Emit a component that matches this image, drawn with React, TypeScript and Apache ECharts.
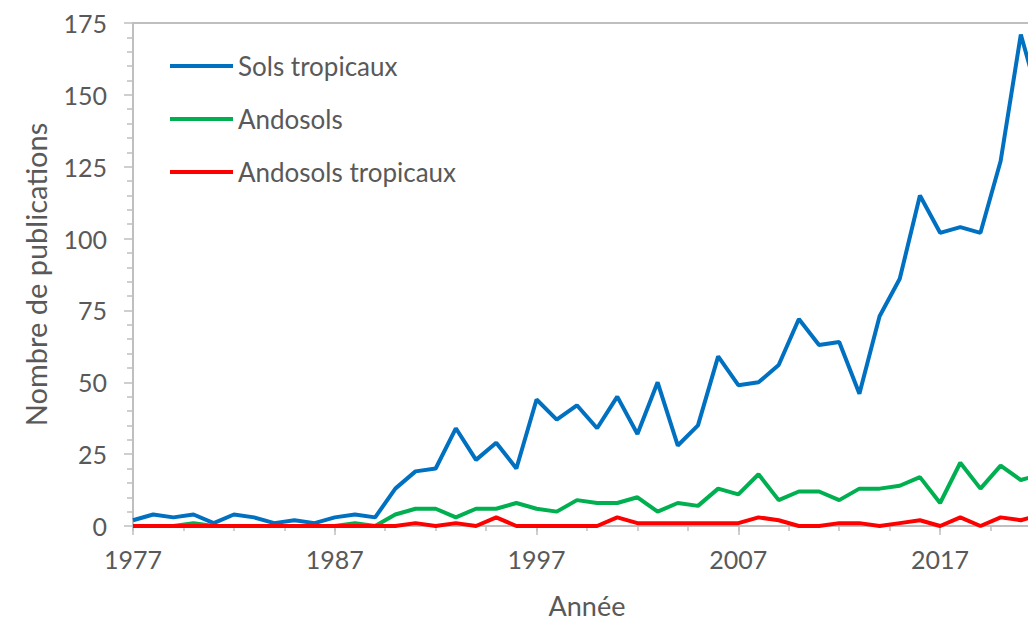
import React, { useEffect, useRef } from "react";
import * as echarts from "echarts";

const years: number[] = [
  1977, 1978, 1979, 1980, 1981, 1982, 1983, 1984, 1985, 1986,
  1987, 1988, 1989, 1990, 1991, 1992, 1993, 1994, 1995, 1996,
  1997, 1998, 1999, 2000, 2001, 2002, 2003, 2004, 2005, 2006,
  2007, 2008, 2009, 2010, 2011, 2012, 2013, 2014, 2015, 2016,
  2017, 2018, 2019, 2020, 2021, 2022,
];

const solsTropicaux: number[] = [
  2, 4, 3, 4, 1, 4, 3, 1, 2, 1,
  3, 4, 3, 13, 19, 20, 34, 23, 29, 20,
  44, 37, 42, 34, 45, 32, 50, 28, 35, 59,
  49, 50, 56, 72, 63, 64, 46, 73, 86, 115,
  102, 104, 102, 127, 171, 146,
];

const andosols: number[] = [
  0, 0, 0, 1, 0, 0, 0, 0, 0, 0,
  0, 1, 0, 4, 6, 6, 3, 6, 6, 8,
  6, 5, 9, 8, 8, 10, 5, 8, 7, 13,
  11, 18, 9, 12, 12, 9, 13, 13, 14, 17,
  8, 22, 13, 21, 16, 18,
];

const andosolsTropicaux: number[] = [
  0, 0, 0, 0, 0, 0, 0, 0, 0, 0,
  0, 0, 0, 0, 1, 0, 1, 0, 3, 0,
  0, 0, 0, 0, 3, 1, 1, 1, 1, 1,
  1, 3, 2, 0, 0, 1, 1, 0, 1, 2,
  0, 3, 0, 3, 2, 4,
];

const seriesNames: string[] = ["Sols tropicaux", "Andosols", "Andosols tropicaux"];
const seriesColors: string[] = ["#0070C0", "#00B050", "#FF0000"];

const xMin = 1977;
const xMax = 2022;
const yMin = 0;
const yMax = 175;

const FONT = "Lato, 'Open Sans', sans-serif";
const TEXT = "#595959";
const AXIS = "#BFBFBF";

export default function App() {
  const ref = useRef<HTMLDivElement>(null);

  useEffect(() => {
    if (!ref.current) return;
    const chart = echarts.init(ref.current, undefined, { renderer: "svg" });
    const seriesData = [solsTropicaux, andosols, andosolsTropicaux];
    chart.setOption({
      animation: false,
      backgroundColor: "#ffffff",
      textStyle: { fontFamily: FONT },
      grid: {
        left: 133,
        right: -13,
        top: 23,
        bottom: 95,
        containLabel: false,
        outerBoundsMode: "none",
      },
      legend: {
        orient: "vertical",
        left: 170,
        top: 51,
        padding: 0,
        itemWidth: 63,
        itemHeight: 4,
        itemGap: 23,
        icon: "rect",
        data: seriesNames,
        textStyle: { fontFamily: FONT, fontSize: 26, color: TEXT, lineHeight: 30 },
      },
      xAxis: [
        {
          type: "value",
          min: xMin,
          max: xMax,
          interval: 10,
          name: "Année",
          nameLocation: "middle",
          nameGap: 66,
          nameTextStyle: { fontFamily: FONT, fontSize: 27, color: TEXT, lineHeight: 26 },
          axisLine: { show: true, lineStyle: { color: AXIS, width: 2 } },
          axisTick: { show: true, length: 9, lineStyle: { color: AXIS, width: 1.5 } },
          axisLabel: {
            show: true,
            margin: 20,
            showMaxLabel: false,
            fontFamily: FONT,
            fontSize: 25,
            color: TEXT,
            formatter: (v: number) => ((v - xMin) % 10 === 0 ? String(v) : ""),
          },
          splitLine: { show: false },
        },
        {
          type: "value",
          min: xMin,
          max: xMax,
          interval: 2.5,
          position: "bottom",
          axisLine: { show: false },
          axisTick: { show: true, length: 5, lineStyle: { color: AXIS, width: 1.5 } },
          axisLabel: { show: false },
          splitLine: { show: false },
        },
        {
          type: "value",
          min: xMin,
          max: xMax,
          position: "top",
          axisLine: { show: true, lineStyle: { color: AXIS, width: 2 } },
          axisTick: { show: false },
          axisLabel: { show: false },
          splitLine: { show: false },
        },
      ],
      yAxis: {
        type: "value",
        min: yMin,
        max: yMax,
        interval: 25,
        name: "Nombre de publications",
        nameLocation: "middle",
        nameGap: 83,
        nameTextStyle: { fontFamily: FONT, fontSize: 29, color: TEXT },
        axisLine: { show: true, lineStyle: { color: AXIS, width: 2 } },
        axisTick: { show: true, length: 9, lineStyle: { color: AXIS, width: 1.5 } },
        minorTick: { show: true, splitNumber: 5, length: 6, lineStyle: { color: AXIS, width: 1.5 } },
        axisLabel: { margin: 26, fontFamily: FONT, fontSize: 25, color: TEXT },
        splitLine: { show: false },
      },
      series: seriesNames.map((name, i) => ({
        name,
        type: "line",
        xAxisIndex: 0,
        yAxisIndex: 0,
        symbol: "none",
        showSymbol: false,
        clip: true,
        color: seriesColors[i],
        lineStyle: { color: seriesColors[i], width: 4 },
        itemStyle: { color: seriesColors[i] },
        data: years.map((y, j) => [y, seriesData[i][j]]),
      })),
    });
    return () => chart.dispose();
  }, []);

  return (
    <div
      ref={ref}
      style={{ position: "fixed", left: 0, top: 0, width: 1028, height: 621, overflow: "hidden" }}
    />
  );
}
